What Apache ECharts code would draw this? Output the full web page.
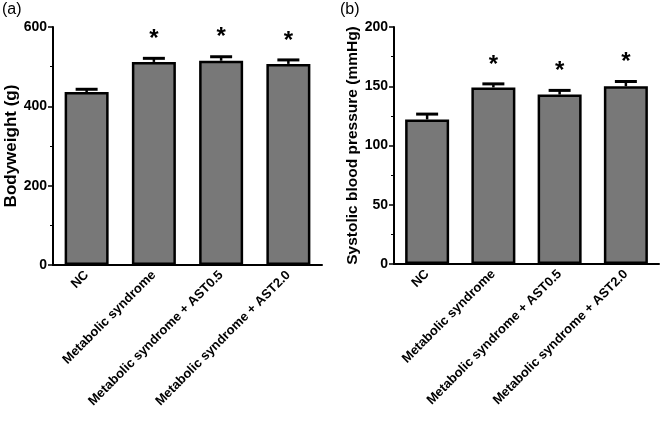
<!DOCTYPE html>
<html><head><meta charset="utf-8">
<script src="https://cdn.jsdelivr.net/npm/echarts@6/dist/echarts.min.js"></script>
<style>html,body{margin:0;padding:0;background:#fff}#c{width:668px;height:422px}</style>
</head><body><div id="c"></div>
<script>
const categories = ['NC', 'Metabolic syndrome', 'Metabolic syndrome + AST0.5', 'Metabolic syndrome + AST2.0'];
const bodyweight = [436, 512, 515, 507];
const bodyweightErr = [7, 9, 10, 10];
const bodyweightSig = ['', '*', '*', '*'];
const sbp = [122, 149, 143, 150];
const sbpErr = [4.5, 3, 3.5, 4];
const sbpSig = ['', '*', '*', '*'];
const bwTicks = [0, 200, 400, 600];
const sbpTicks = [0, 50, 100, 150, 200];

const FONT = '"Liberation Sans", Arial, sans-serif';

function errSeries(idx, vals, errs, sig) {
  return {
    type: 'custom', xAxisIndex: idx, yAxisIndex: idx, z: 5,
    data: vals.map((v, i) => [i, v, errs[i], sig[i]]),
    renderItem: function (params, api) {
      const x = api.value(0), v = api.value(1), e = api.value(2);
      const p0 = api.coord([x, v]);
      const p1 = api.coord([x, v + e]);
      const children = [
        { type: 'line', shape: { x1: p0[0], y1: p0[1], x2: p1[0], y2: p1[1] }, style: { stroke: '#000', lineWidth: 2.5 } },
        { type: 'line', shape: { x1: p1[0] - 11, y1: p1[1], x2: p1[0] + 11, y2: p1[1] }, style: { stroke: '#000', lineWidth: 3 } }
      ];
      const s = api.value(3);
      if (s && s !== '-') {
        children.push({ type: 'text', x: p1[0], y: p1[1] - 19,
          style: { text: '*', font: 'bold 24px ' + FONT, fill: '#000', align: 'center', verticalAlign: 'middle' } });
      }
      return { type: 'group', children: children };
    }
  };
}

const xAxisBase = {
  type: 'category', data: categories,
  axisLine: { lineStyle: { color: '#000', width: 2 } },
  axisTick: { alignWithLabel: true, length: 5, lineStyle: { color: '#000', width: 1.5 } },
  axisLabel: { rotate: 45, interval: 0, color: '#000', fontWeight: 'bold', fontSize: 13, fontFamily: FONT, margin: 8 }
};
const yAxisBase = {
  type: 'value', nameLocation: 'middle', nameRotate: 90,
  axisLine: { show: true, lineStyle: { color: '#000', width: 2 } },
  axisTick: { show: true, length: 5, lineStyle: { color: '#000', width: 1.5 } },
  minorTick: { show: true, splitNumber: 2, length: 3, lineStyle: { color: '#000', width: 1 } },
  splitLine: { show: false },
  axisLabel: { color: '#000', fontWeight: 'bold', fontSize: 14, fontFamily: FONT, margin: 6 }
};

const chart = echarts.init(document.getElementById('c'));
chart.setOption({
  animation: false,
  graphic: [
    { type: 'text', left: 2, top: 2, style: { text: '(a)', font: '16px ' + FONT, fill: '#000' } },
    { type: 'text', left: 340, top: 2, style: { text: '(b)', font: '16px ' + FONT, fill: '#000' } }
  ],
  grid: [
    { left: 53, right: 346, top: 27, bottom: 157 },
    { left: 394, right: 9, top: 27, bottom: 158 }
  ],
  xAxis: [
    Object.assign({ gridIndex: 0 }, xAxisBase),
    Object.assign({ gridIndex: 1 }, xAxisBase)
  ],
  yAxis: [
    Object.assign({}, yAxisBase, { gridIndex: 0, min: bwTicks[0], max: bwTicks[bwTicks.length - 1], interval: 200, name: 'Bodyweight (g)', nameGap: 32,
      nameTextStyle: { color: '#000', fontWeight: 'bold', fontSize: 17, fontFamily: FONT } }),
    Object.assign({}, yAxisBase, { gridIndex: 1, min: sbpTicks[0], max: sbpTicks[sbpTicks.length - 1], interval: 50, name: 'Systolic blood pressure (mmHg)', nameGap: 31,
      nameTextStyle: { color: '#000', fontWeight: 'bold', fontSize: 15.5, fontFamily: FONT } })
  ],
  series: [
    { type: 'bar', xAxisIndex: 0, yAxisIndex: 0, data: bodyweight, barWidth: 44,
      itemStyle: { color: '#787878', borderColor: '#000', borderWidth: 2.5 } },
    { type: 'bar', xAxisIndex: 1, yAxisIndex: 1, data: sbp, barWidth: 44,
      itemStyle: { color: '#787878', borderColor: '#000', borderWidth: 2.5 } },
    errSeries(0, bodyweight, bodyweightErr, bodyweightSig),
    errSeries(1, sbp, sbpErr, sbpSig)
  ]
});
</script></body></html>
